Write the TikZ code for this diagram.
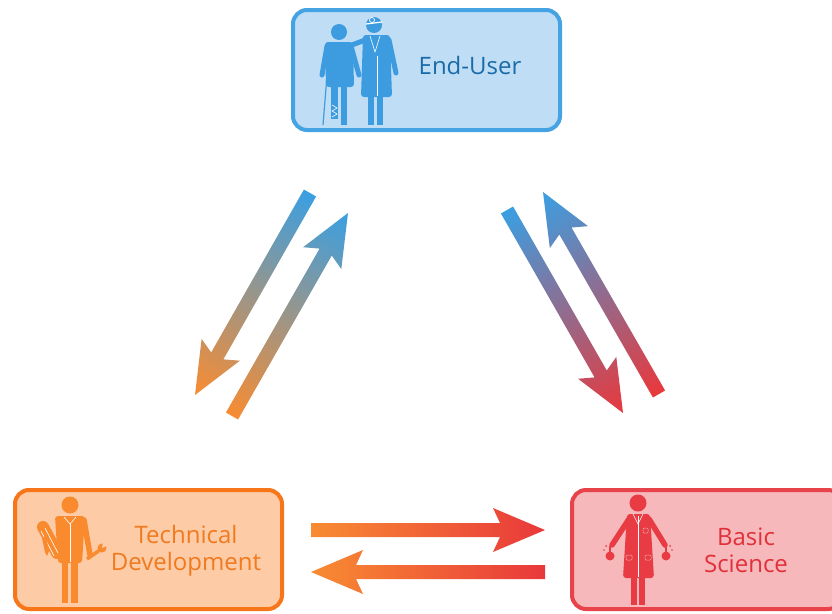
\documentclass[tikz,border=0pt]{standalone}
\usepackage{fontspec}
\setmainfont{Open Sans}
\definecolor{euFill}{HTML}{BFDEF6}
\definecolor{euLine}{HTML}{45A3E3}
\definecolor{euIcon}{HTML}{3D9BE0}
\definecolor{euText}{HTML}{1A6BA8}
\definecolor{tdFill}{HTML}{FDCBA6}
\definecolor{tdLine}{HTML}{F7761A}
\definecolor{tdIcon}{HTML}{F98A2E}
\definecolor{tdText}{HTML}{F07A1F}
\definecolor{bsFill}{HTML}{F6B8BB}
\definecolor{bsLine}{HTML}{E8424A}
\definecolor{bsIcon}{HTML}{E83B43}
\definecolor{bsText}{HTML}{E0313A}
\definecolor{arBlue}{HTML}{3A9FE2}
\definecolor{arOrange}{HTML}{F88C32}
\definecolor{arRed}{HTML}{E9383B}
\tikzset{
  panel/.style={draw, line width=4pt, rounded corners=14pt, inner sep=0pt},
  label text/.style={inner sep=0pt, align=center, font=\fontsize{24pt}{27pt}\selectfont},
  limb/.style={line width=5.5pt, line cap=round},
  fineline/.style={white, line width=0.6pt},
  pocketline/.style={white, line width=0.5pt, opacity=0.55},
}
\newcommand\gradarrow[4]{%
  \pgfpointdiff{\pgfpointanchor{#1}{center}}{\pgfpointanchor{#2}{center}}%
  \pgfgetlastxy{\rsAx}{\rsAy}%
  \pgfmathsetmacro\rsAng{atan2(\rsAy,\rsAx)}%
  \pgfmathsetmacro\rsLen{veclen(\rsAx,\rsAy)}%
  \begin{scope}[transform canvas={shift={(#1)},rotate=\rsAng}]
    \shade[left color=#3,right color=#4]
      (0pt,-7pt) -- (\rsLen pt-45pt,-7pt) -- (\rsLen pt-52pt,-22pt) -- (\rsLen pt,0pt)
      -- (\rsLen pt-52pt,22pt) -- (\rsLen pt-45pt,7pt) -- (0pt,7pt) -- cycle;
  \end{scope}}
\begin{document}
\begin{tikzpicture}[x=1pt,y=-1pt]
\useasboundingbox (0,0) rectangle (832,613);
\fill[white] (0,0) rectangle (832,613);
\clip (0,0) rectangle (832,613);

% panels
\node[panel, draw=euLine, fill=euFill, minimum width=267pt, minimum height=120pt] (eu) at (426.5,70) {};
\node[panel, draw=tdLine, fill=tdFill, minimum width=267pt, minimum height=119pt] (td) at (148.5,549.5) {};
\node[panel, draw=bsLine, fill=bsFill, minimum width=270pt, minimum height=119pt] (bs) at (707,549.5) {};

% texts
\node[label text, text=euText, anchor=base] (eut) at (470,74) {End-User};
\node[label text, text=tdText] (tdt) at (186,550.5) {Technical\\Development};
\node[label text, text=bsText] (bst) at (746,550.5) {Basic\\Science};

% End-User icon
\begin{scope}[fill=euIcon, draw=euIcon]
  \fill (339,32) circle (8pt);
  \fill[rounded corners=3pt] (325,42) -- (353,42) -- (354,87) -- (326,87) -- cycle;
  \draw[limb, line width=5pt] (327,46) -- (322,75);
  \draw[limb, line width=5pt] (351,46) -- (359,75);
  \fill (331,86) rectangle (338,119);
  \fill (341,86) rectangle (347,125);
  \draw[fineline] (332,105) -- (337,108) -- (332,111) -- (337,114) -- (332,117);
  \draw[line width=1.2pt] (327,76) -- (323,125);
  \fill (374,25) circle (8pt);
  \fill[rounded corners=3pt] (363,35) -- (390,35) -- (392,97) -- (361,97) -- cycle;
  \draw[limb, line width=5pt] (365,40) -- (352,45);
  \draw[limb, line width=5pt] (389,40) -- (396,73);
  \fill (368,96) rectangle (374,125);
  \fill (377,96) rectangle (383,125);
  \draw[white, line width=1.2pt] (366,24) -- (382,22);
  \draw[white, line width=0.7pt] (372,20) circle (2.5pt);
  \draw[fineline] (370,36) -- (375,52) -- (380,36);
  \draw[fineline] (377,56) -- (377,96);
\end{scope}

% Technical Development icon
\begin{scope}[fill=tdIcon, draw=tdIcon]
  \fill (70,505) circle (8.5pt);
  \fill[rounded corners=3pt] (55,516) -- (85,516) -- (82,563) -- (58,563) -- cycle;
  \draw[fineline] (64,517) -- (70,524) -- (76,517);
  \draw[fineline] (70,524) -- (70,562);
  \draw[limb] (84,520) -- (90,555);
  \fill (62,562) rectangle (68,603);
  \fill (71,562) rectangle (78,603);
  \draw[line width=12pt, line cap=round] (43,527) -- (57,553);
  \draw[fineline] (41,531) -- (54,556);
  \draw[fineline] (45,528) -- (58,553);
  \fill (42,538) -- (46,536) -- (49,551) -- (47,556) -- (45,552) -- cycle;
  \draw[line width=3.5pt] (87,559) -- (100,550);
  \fill (102,548) circle (4.5pt);
  \fill[tdFill] (102,548) -- (103,541) -- (109,545) -- cycle;
\end{scope}

% Basic Science icon
\begin{scope}[fill=bsIcon, draw=bsIcon]
  \fill (638,503) circle (8.5pt);
  \fill[rounded corners=3pt] (627,514) -- (650,514) -- (654,578) -- (623,578) -- cycle;
  \draw[limb] (629,519) -- (612,545);
  \draw[limb] (649,519) -- (665,545);
  \fill (631,577) rectangle (637,605);
  \fill (639,577) rectangle (645,605);
  \draw[fineline] (638,516) -- (638,577);
  \draw[fineline] (633,514) -- (638,524) -- (643,514);
  \draw[pocketline, rounded corners=1pt] (643,528) rectangle (648,533);
  \draw[pocketline, rounded corners=1pt] (626,555) rectangle (632,560);
  \draw[pocketline, rounded corners=1pt] (645,555) rectangle (651,560);
  \fill (610,556) circle (4.5pt);
  \draw[line width=2pt] (610,546) -- (610,553);
  \fill (666,556) circle (4.5pt);
  \draw[line width=2pt] (666,546) -- (666,553);
  \fill (606,546) circle (1pt);
  \fill (604,550) circle (0.8pt);
  \fill (670,546) circle (1pt);
  \fill (672,550) circle (0.8pt);
\end{scope}

% arrow end points
\coordinate (tl1) at (310,193); \coordinate (hl1) at (195,395);
\coordinate (tl2) at (232,416); \coordinate (hl2) at (348,213);
\coordinate (tr1) at (507,210); \coordinate (hr1) at (623,413);
\coordinate (tr2) at (659,394); \coordinate (hr2) at (543,192);
\coordinate (tb1) at (311,530); \coordinate (hb1) at (545,530);
\coordinate (tb2) at (545,572); \coordinate (hb2) at (311,572);

\gradarrow{tl1}{hl1}{arBlue}{arOrange}
\gradarrow{tl2}{hl2}{arOrange}{arBlue}
\gradarrow{tr1}{hr1}{arBlue}{arRed}
\gradarrow{tr2}{hr2}{arRed}{arBlue}
\gradarrow{tb1}{hb1}{arOrange}{arRed}
\gradarrow{tb2}{hb2}{arRed}{arOrange}
\end{tikzpicture}
\end{document}
